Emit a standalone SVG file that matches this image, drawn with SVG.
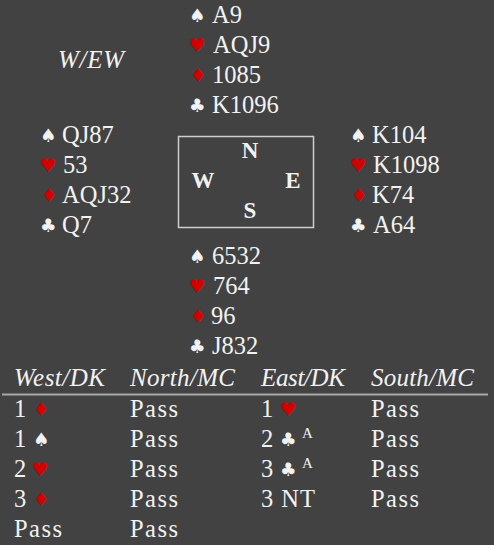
<svg xmlns="http://www.w3.org/2000/svg" width="494" height="545" viewBox="0 0 494 545">
<style>
.t{font-family:"Liberation Serif","DejaVu Serif",serif;font-size:24.5px;fill:#f2f2f2}
.i{font-style:italic;font-size:25px}
.s{font-family:"DejaVu Sans",sans-serif;font-size:18.5px;fill:#f2f2f2}
.r{fill:#d40000}
.b{font-family:"Liberation Serif","DejaVu Serif",serif;font-size:23px;font-weight:bold;fill:#f2f2f2;text-anchor:middle}
.sup{font-family:"Liberation Serif","DejaVu Serif",serif;font-size:15px;fill:#f2f2f2}
</style>
<rect width="494" height="545" fill="#424242"/>
<text class="t i" x="58" y="68" textLength="66">W/EW</text>
<g id="north">
<text class="s" x="189" y="22">♠</text><text class="t" x="212" y="23">A9</text>
<text class="s r" x="189" y="52">♥</text><text class="t" x="213" y="53">AQJ9</text>
<text class="s r" x="190" y="82">♦</text><text class="t" x="212" y="83">1085</text>
<text class="s" x="189" y="112">♣</text><text class="t" x="212" y="113">K1096</text>
</g>
<g id="west">
<text class="s" x="40" y="142">♠</text><text class="t" x="62" y="143">QJ87</text>
<text class="s r" x="40" y="172">♥</text><text class="t" x="63" y="173">53</text>
<text class="s r" x="41" y="202">♦</text><text class="t" x="62" y="203">AQJ32</text>
<text class="s" x="40" y="232">♣</text><text class="t" x="62" y="233">Q7</text>
</g>
<g id="east">
<text class="s" x="350" y="142">♠</text><text class="t" x="372" y="143">K104</text>
<text class="s r" x="350" y="172">♥</text><text class="t" x="373" y="173">K1098</text>
<text class="s r" x="351" y="202">♦</text><text class="t" x="372" y="203">K74</text>
<text class="s" x="350" y="232">♣</text><text class="t" x="373" y="233">A64</text>
</g>
<g id="compass">
<rect x="178.5" y="136.5" width="135" height="91" fill="none" stroke="#cfcfcf" stroke-width="1.5"/>
<text class="b" x="250" y="158">N</text>
<text class="b" x="203" y="188">W</text>
<text class="b" x="293" y="188">E</text>
<text class="b" x="250" y="218">S</text>
</g>
<g id="south">
<text class="s" x="189" y="263">♠</text><text class="t" x="212" y="264">6532</text>
<text class="s r" x="189" y="293">♥</text><text class="t" x="213" y="294">764</text>
<text class="s r" x="190" y="323">♦</text><text class="t" x="211" y="324">96</text>
<text class="s" x="189" y="353">♣</text><text class="t" x="212" y="354">J832</text>
</g>
<g id="bidding">
<text class="t i" x="14" y="386" textLength="91">West/DK</text>
<text class="t i" x="130" y="386" textLength="105">North/MC</text>
<text class="t i" x="261" y="386" textLength="84">East/DK</text>
<text class="t i" x="371" y="386" textLength="103">South/MC</text>
<line x1="2" y1="394.5" x2="488" y2="394.5" stroke="#a8a8a8" stroke-width="2"/>
<text class="t" x="14" y="417">1</text><text class="s r" x="33" y="416">♦</text>
<text class="t" x="130" y="417" textLength="48">Pass</text>
<text class="t" x="261" y="417">1</text><text class="s r" x="280" y="416">♥</text>
<text class="t" x="371" y="417" textLength="48">Pass</text>
<text class="t" x="14" y="447">1</text><text class="s" x="33" y="446">♠</text>
<text class="t" x="130" y="447" textLength="48">Pass</text>
<text class="t" x="261" y="447">2</text><text class="s" x="280" y="446">♣</text><text class="sup" x="302" y="438">A</text>
<text class="t" x="371" y="447" textLength="48">Pass</text>
<text class="t" x="14" y="477">2</text><text class="s r" x="32" y="476">♥</text>
<text class="t" x="130" y="477" textLength="48">Pass</text>
<text class="t" x="261" y="477">3</text><text class="s" x="280" y="476">♣</text><text class="sup" x="302" y="468">A</text>
<text class="t" x="371" y="477" textLength="48">Pass</text>
<text class="t" x="14" y="507">3</text><text class="s r" x="33" y="506">♦</text>
<text class="t" x="130" y="507" textLength="48">Pass</text>
<text class="t" x="261" y="507" textLength="54">3 NT</text>
<text class="t" x="371" y="507" textLength="48">Pass</text>
<text class="t" x="14" y="537" textLength="48">Pass</text>
<text class="t" x="130" y="537" textLength="48">Pass</text>
</g>
</svg>
